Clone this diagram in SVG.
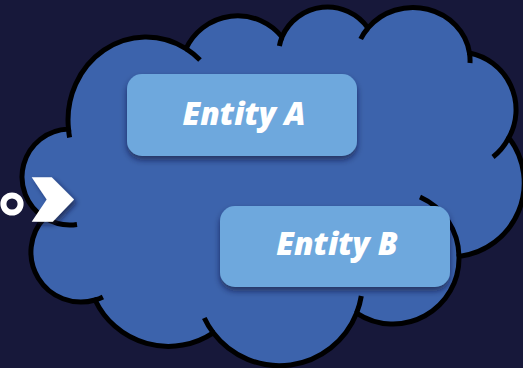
<svg xmlns="http://www.w3.org/2000/svg" width="523" height="368" viewBox="0 0 523 368">
  <defs>
    <filter id="box-shadow" x="-10%" y="-20%" width="120%" height="150%">
      <feDropShadow dx="0" dy="4" stdDeviation="3" flood-color="#0b1530" flood-opacity="0.6"/>
    </filter>
    <filter id="mark-shadow" x="-30%" y="-30%" width="170%" height="170%">
      <feDropShadow dx="3" dy="3" stdDeviation="2.5" flood-color="#0b1530" flood-opacity="0.6"/>
    </filter>
    <style>
      .bg { fill: #17183a; }
      .cloud { fill: #3c63ac; stroke: #000; stroke-width: 5; stroke-linejoin: miter; }
      .tick { fill: none; stroke: #000; stroke-width: 5; stroke-linecap: butt; }
      .entity rect { fill: #6ea8dd; filter: url(#box-shadow); }
      .entity text { fill: #ffffff; font-family: "Open Sans", Lato, "Liberation Sans", sans-serif; font-weight: 800; font-style: italic; font-size: 31.5px; text-anchor: middle; }
      .mark { fill: #ffffff; }
    </style>
  </defs>

  <rect class="bg" x="0" y="0" width="523" height="368"/>

  <!-- Cloud: eleven lobes drawn as arcs, plus the short inner arcs at each junction -->
  <g id="cloud">
    <path class="cloud" d="M 44.6 217.7
      A 48 48 0 0 1 68.5 129
      A 78 83 0 0 1 186 48.7
      A 57 57 0 0 1 282 37
      A 49.5 49.5 0 0 1 368 28
      A 57 53 0 0 1 469.5 53
      A 57.8 57.8 0 0 1 508.8 137.7
      A 74 74 0 0 1 459 256.4
      A 66 66 0 0 1 356.6 313.1
      A 83 83 0 0 1 213.2 332.8
      A 81 81 0 0 1 95.1 300
      A 50 50 0 0 1 44.6 217.7 Z"/>
    <path class="tick" d="M 68.5 129 A 78 83 0 0 0 69.6 137.5
      M 186 48.7 A 78 83 0 0 1 200 60.1
      M 282 37 A 49.5 49.5 0 0 0 279.4 46
      M 368 28 A 57 53 0 0 0 360.7 39
      M 469.5 53 A 57 53 0 0 1 470 63
      M 508.8 137.7 A 57.8 57.8 0 0 1 493 157
      M 459 256.4 A 66 66 0 0 0 420 197
      M 356.6 313.1 A 83 83 0 0 0 361.3 296
      M 213.2 332.8 A 83 83 0 0 1 204.3 318
      M 95.1 300 A 50 50 0 0 0 102.9 296.9
      M 44.6 217.7 A 48 48 0 0 0 77 224.5"/>
  </g>

  <g id="entity-a" class="entity">
    <rect x="127" y="74" width="230" height="82" rx="15" ry="15"/>
    <text x="244" y="124.5">Entity A</text>
  </g>

  <g id="entity-b" class="entity">
    <rect x="220" y="206" width="230" height="81" rx="15" ry="15"/>
    <text x="337" y="255">Entity B</text>
  </g>

  <!-- Incoming connector end: ring and chevron -->
  <g id="connectors">
    <circle cx="12" cy="204" r="8.6" fill="none" stroke="#ffffff" stroke-width="6"/>
    <polygon class="mark" filter="url(#mark-shadow)" points="31.7,177.3 51.7,177.3 74,199.5 52.7,221.7 31.7,221.7 46.7,199.5"/>
  </g>
</svg>
